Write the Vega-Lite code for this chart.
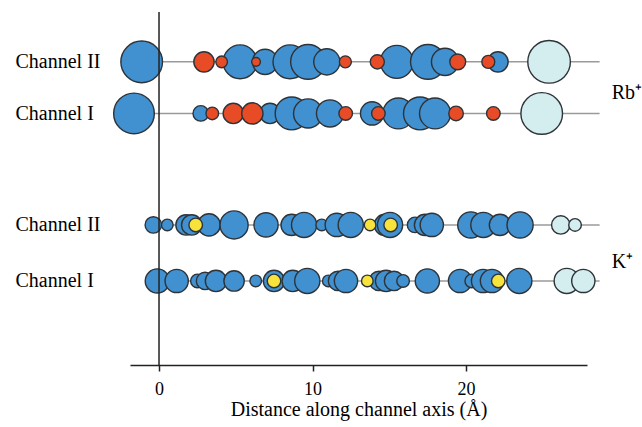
{
  "$schema": "https://vega.github.io/schema/vega-lite/v6.json",
  "width": 457,
  "height": 353,
  "autosize": "none",
  "padding": {"left": 130, "top": 12, "right": 55, "bottom": 62},
  "background": "white",
  "config": {"view": {"stroke": null}, "font": "Liberation Serif"},
  "datasets": {
    "tracks": [
      {"channel": "Rb Channel II", "track": 3.91, "from": -1.2, "to": 28.7},
      {"channel": "Rb Channel I", "track": 2.99, "from": -1.2, "to": 28.7},
      {"channel": "K Channel II", "track": 1, "from": -0.5, "to": 28.7},
      {"channel": "K Channel I", "track": 0, "from": -0.5, "to": 28.7}
    ],
    "axis0": [{"distance": 0}],
    "sites": [
      {"track": 3.91, "distance": -1.13, "radius": 21.5, "kind": "water"},
      {"track": 3.91, "distance": 5.28, "radius": 17.5, "kind": "water"},
      {"track": 3.91, "distance": 6.91, "radius": 13, "kind": "water"},
      {"track": 3.91, "distance": 8.53, "radius": 17.5, "kind": "water"},
      {"track": 3.91, "distance": 9.71, "radius": 18, "kind": "water"},
      {"track": 3.91, "distance": 10.93, "radius": 13.5, "kind": "water"},
      {"track": 3.91, "distance": 15.49, "radius": 17, "kind": "water"},
      {"track": 3.91, "distance": 17.52, "radius": 18, "kind": "water"},
      {"track": 3.91, "distance": 18.63, "radius": 14, "kind": "water"},
      {"track": 3.91, "distance": 22.08, "radius": 10.5, "kind": "water"},
      {"track": 3.91, "distance": 25.41, "radius": 22, "kind": "outer"},
      {"track": 2.99, "distance": -1.63, "radius": 21, "kind": "water"},
      {"track": 2.99, "distance": 2.72, "radius": 8, "kind": "water"},
      {"track": 2.99, "distance": 7.23, "radius": 10.5, "kind": "water"},
      {"track": 2.99, "distance": 8.64, "radius": 17, "kind": "water"},
      {"track": 2.99, "distance": 9.71, "radius": 15, "kind": "water"},
      {"track": 2.99, "distance": 11.14, "radius": 14, "kind": "water"},
      {"track": 2.99, "distance": 13.88, "radius": 12, "kind": "water"},
      {"track": 2.99, "distance": 15.59, "radius": 16, "kind": "water"},
      {"track": 2.99, "distance": 17.0, "radius": 17, "kind": "water"},
      {"track": 2.99, "distance": 17.98, "radius": 16, "kind": "water"},
      {"track": 2.99, "distance": 24.93, "radius": 21.5, "kind": "outer"},
      {"track": 1, "distance": -0.37, "radius": 8.5, "kind": "water"},
      {"track": 1, "distance": 0.54, "radius": 6, "kind": "water"},
      {"track": 1, "distance": 1.76, "radius": 10.5, "kind": "water"},
      {"track": 1, "distance": 2.13, "radius": 10.5, "kind": "water"},
      {"track": 1, "distance": 3.26, "radius": 11.5, "kind": "water"},
      {"track": 1, "distance": 4.89, "radius": 14.5, "kind": "water"},
      {"track": 1, "distance": 6.97, "radius": 12.5, "kind": "water"},
      {"track": 1, "distance": 8.64, "radius": 11, "kind": "water"},
      {"track": 1, "distance": 9.45, "radius": 13, "kind": "water"},
      {"track": 1, "distance": 10.6, "radius": 6, "kind": "water"},
      {"track": 1, "distance": 11.58, "radius": 12, "kind": "water"},
      {"track": 1, "distance": 12.49, "radius": 13, "kind": "water"},
      {"track": 1, "distance": 14.72, "radius": 11, "kind": "water"},
      {"track": 1, "distance": 15.05, "radius": 13, "kind": "water"},
      {"track": 1, "distance": 16.68, "radius": 8, "kind": "water"},
      {"track": 1, "distance": 17.33, "radius": 11, "kind": "water"},
      {"track": 1, "distance": 17.77, "radius": 12, "kind": "water"},
      {"track": 1, "distance": 20.31, "radius": 13.5, "kind": "water"},
      {"track": 1, "distance": 21.13, "radius": 13, "kind": "water"},
      {"track": 1, "distance": 22.21, "radius": 11, "kind": "water"},
      {"track": 1, "distance": 23.52, "radius": 13.5, "kind": "water"},
      {"track": 1, "distance": 26.17, "radius": 9.5, "kind": "outer"},
      {"track": 1, "distance": 27.1, "radius": 6.5, "kind": "outer"},
      {"track": 0, "distance": -0.11, "radius": 12.5, "kind": "water"},
      {"track": 0, "distance": 1.15, "radius": 12, "kind": "water"},
      {"track": 0, "distance": 2.5, "radius": 7, "kind": "water"},
      {"track": 0, "distance": 3.0, "radius": 9, "kind": "water"},
      {"track": 0, "distance": 3.71, "radius": 11, "kind": "water"},
      {"track": 0, "distance": 4.89, "radius": 10.5, "kind": "water"},
      {"track": 0, "distance": 6.3, "radius": 6, "kind": "water"},
      {"track": 0, "distance": 7.49, "radius": 11, "kind": "water"},
      {"track": 0, "distance": 8.71, "radius": 11, "kind": "water"},
      {"track": 0, "distance": 9.66, "radius": 13, "kind": "water"},
      {"track": 0, "distance": 11.03, "radius": 6, "kind": "water"},
      {"track": 0, "distance": 11.66, "radius": 10, "kind": "water"},
      {"track": 0, "distance": 12.18, "radius": 12, "kind": "water"},
      {"track": 0, "distance": 14.33, "radius": 10, "kind": "water"},
      {"track": 0, "distance": 14.79, "radius": 11, "kind": "water"},
      {"track": 0, "distance": 15.31, "radius": 10, "kind": "water"},
      {"track": 0, "distance": 15.9, "radius": 6.5, "kind": "water"},
      {"track": 0, "distance": 17.48, "radius": 12.5, "kind": "water"},
      {"track": 0, "distance": 19.61, "radius": 12, "kind": "water"},
      {"track": 0, "distance": 20.37, "radius": 7, "kind": "water"},
      {"track": 0, "distance": 21.11, "radius": 12, "kind": "water"},
      {"track": 0, "distance": 21.69, "radius": 12, "kind": "water"},
      {"track": 0, "distance": 23.47, "radius": 13, "kind": "water"},
      {"track": 0, "distance": 26.56, "radius": 13, "kind": "outer"},
      {"track": 0, "distance": 27.64, "radius": 12, "kind": "outer"},
      {"track": 3.91, "distance": 2.93, "radius": 10.5, "kind": "Rb+"},
      {"track": 3.91, "distance": 4.08, "radius": 6, "kind": "Rb+"},
      {"track": 3.91, "distance": 6.32, "radius": 4.5, "kind": "Rb+"},
      {"track": 3.91, "distance": 12.14, "radius": 6.2, "kind": "Rb+"},
      {"track": 3.91, "distance": 14.22, "radius": 7.3, "kind": "Rb+"},
      {"track": 3.91, "distance": 19.46, "radius": 8.2, "kind": "Rb+"},
      {"track": 3.91, "distance": 21.45, "radius": 6.7, "kind": "Rb+"},
      {"track": 2.99, "distance": 3.47, "radius": 6.5, "kind": "Rb+"},
      {"track": 2.99, "distance": 4.84, "radius": 10.5, "kind": "Rb+"},
      {"track": 2.99, "distance": 6.08, "radius": 11, "kind": "Rb+"},
      {"track": 2.99, "distance": 12.16, "radius": 7, "kind": "Rb+"},
      {"track": 2.99, "distance": 14.29, "radius": 7, "kind": "Rb+"},
      {"track": 2.99, "distance": 19.35, "radius": 7.5, "kind": "Rb+"},
      {"track": 2.99, "distance": 21.78, "radius": 7, "kind": "Rb+"},
      {"track": 1, "distance": 2.39, "radius": 7, "kind": "K+"},
      {"track": 1, "distance": 13.75, "radius": 6, "kind": "K+"},
      {"track": 1, "distance": 15.09, "radius": 7, "kind": "K+"},
      {"track": 0, "distance": 7.49, "radius": 7, "kind": "K+"},
      {"track": 0, "distance": 13.57, "radius": 6, "kind": "K+"},
      {"track": 0, "distance": 22.1, "radius": 7, "kind": "K+"}
    ],
    "ions": [
      {"label": "Rb⁺", "distance": 29.49, "track": 3.35},
      {"label": "K⁺", "distance": 29.49, "track": 0.34}
    ]
  },
  "layer": [
    {
      "data": {"name": "tracks"},
      "mark": {"type": "rule", "color": "#9a9a9a", "strokeWidth": 1.5},
      "encoding": {
        "x": {
          "field": "from",
          "type": "quantitative",
          "scale": {"domain": [-1.89, 27.88], "nice": false, "zero": false},
          "axis": {
            "values": [0, 10, 20],
            "title": "Distance along channel axis (Å)",
            "titleFontSize": 20,
            "titleFontWeight": "normal",
            "titleColor": "black",
            "titleFont": "Liberation Serif",
            "titlePadding": 1,
            "labelFont": "Liberation Serif",
            "labelFontSize": 18,
            "labelColor": "black",
            "labelPadding": 9,
            "labelFlush": false,
            "grid": false,
            "domainColor": "#222",
            "domainWidth": 1.5,
            "tickColor": "#222",
            "tickWidth": 1.5,
            "tickSize": 6
          }
        },
        "x2": {"field": "to"},
        "y": {
          "field": "track",
          "type": "quantitative",
          "scale": {"domain": [-1.5, 4.8], "nice": false, "zero": false},
          "axis": {
            "values": [0, 1, 2.99, 3.91],
            "labelExpr": "datum.value < 0.5 ? 'Channel I' : datum.value < 1.5 ? 'Channel II' : datum.value < 3.5 ? 'Channel I' : 'Channel II'",
            "labelAlign": "left",
            "labelBaseline": "middle",
            "labelPadding": 115,
            "labelFont": "Liberation Serif",
            "labelFontSize": 20,
            "labelColor": "black",
            "domain": false,
            "ticks": false,
            "grid": false,
            "title": null
          }
        }
      }
    },
    {
      "data": {"name": "sites"},
      "mark": {"type": "circle", "stroke": "#2d3338", "strokeWidth": 1.4, "opacity": 1},
      "encoding": {
        "x": {"field": "distance", "type": "quantitative"},
        "y": {"field": "track", "type": "quantitative"},
        "size": {
          "field": "radius",
          "type": "quantitative",
          "scale": {"type": "pow", "exponent": 2, "domain": [0, 22], "range": [0, 1815]},
          "legend": null
        },
        "color": {
          "field": "kind",
          "type": "nominal",
          "scale": {"domain": ["water", "outer", "Rb+", "K+"], "range": ["#4190cf", "#d4eef0", "#e84c27", "#f8e23c"]},
          "legend": null
        }
      }
    },
    {
      "data": {"name": "axis0"},
      "mark": {"type": "rule", "color": "#222", "strokeWidth": 1.5},
      "encoding": {"x": {"field": "distance", "type": "quantitative"}}
    },
    {
      "data": {"name": "ions"},
      "mark": {"type": "text", "align": "left", "baseline": "middle", "font": "Liberation Serif", "fontSize": 20, "color": "black"},
      "encoding": {
        "x": {"field": "distance", "type": "quantitative"},
        "y": {"field": "track", "type": "quantitative"},
        "text": {"field": "label"}
      }
    }
  ]
}
